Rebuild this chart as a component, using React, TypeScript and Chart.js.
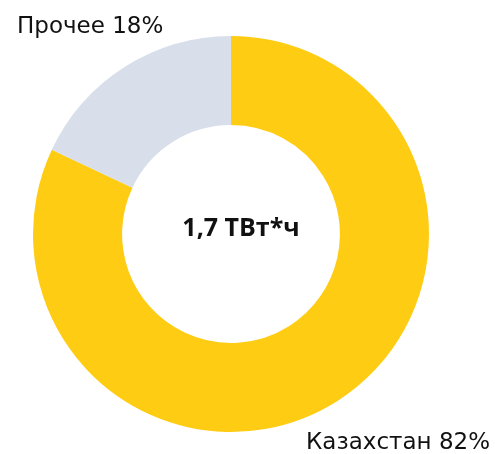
import React, { useEffect, useRef } from "react";
import { Chart, registerables } from "chart.js";

Chart.register(...registerables);

const categories = ["Казахстан", "Прочее"];
const values = [82, 18];
const colors = ["#FFCC14", "#D8DFEA"];
const centerText = "1,7 ТВт*ч";
const FONT = "'Open Sans', sans-serif";
const LABEL_FONT = "'DejaVu Sans', sans-serif";

const labelsPlugin = {
  id: "labelsPlugin",
  afterDraw(chart: any) {
    const ctx = chart.ctx;
    ctx.save();
    ctx.fillStyle = "#111";
    ctx.textBaseline = "alphabetic";
    ctx.font = `400 23px ${LABEL_FONT}`;
    ctx.textAlign = "left";
    ctx.fillText(`${categories[1]} ${values[1]}%`, 17, 33);
    ctx.textAlign = "right";
    ctx.fillText(`${categories[0]} ${values[0]}%`, 490, 449);
    const meta = chart.getDatasetMeta(0);
    const arc = meta.data[0];
    ctx.textAlign = "center";
    ctx.textBaseline = "middle";
    ctx.font = `700 25px ${FONT}`;
    ctx.fillText(centerText, arc.x + 10, arc.y - 5);
    ctx.restore();
  },
};

export default function App() {
  const ref = useRef<HTMLCanvasElement>(null);
  useEffect(() => {
    if (!ref.current) return;
    const chart = new Chart(ref.current, {
      type: "doughnut",
      data: {
        labels: categories,
        datasets: [
          {
            data: values,
            backgroundColor: colors,
            borderWidth: 0,
          },
        ],
      },
      options: {
        responsive: false,
        animation: false,
        cutout: "55%",
        layout: { padding: { left: 33, right: 66, top: 36, bottom: 22 } },
        plugins: { legend: { display: false }, tooltip: { enabled: false } },
      },
      plugins: [labelsPlugin],
    });
    return () => chart.destroy();
  }, []);
  return (
    <div style={{ position: "absolute", left: 0, top: 0, width: 495, height: 454, background: "#fff" }}>
      <canvas ref={ref} width={495} height={454} style={{ display: "block" }} />
    </div>
  );
}
